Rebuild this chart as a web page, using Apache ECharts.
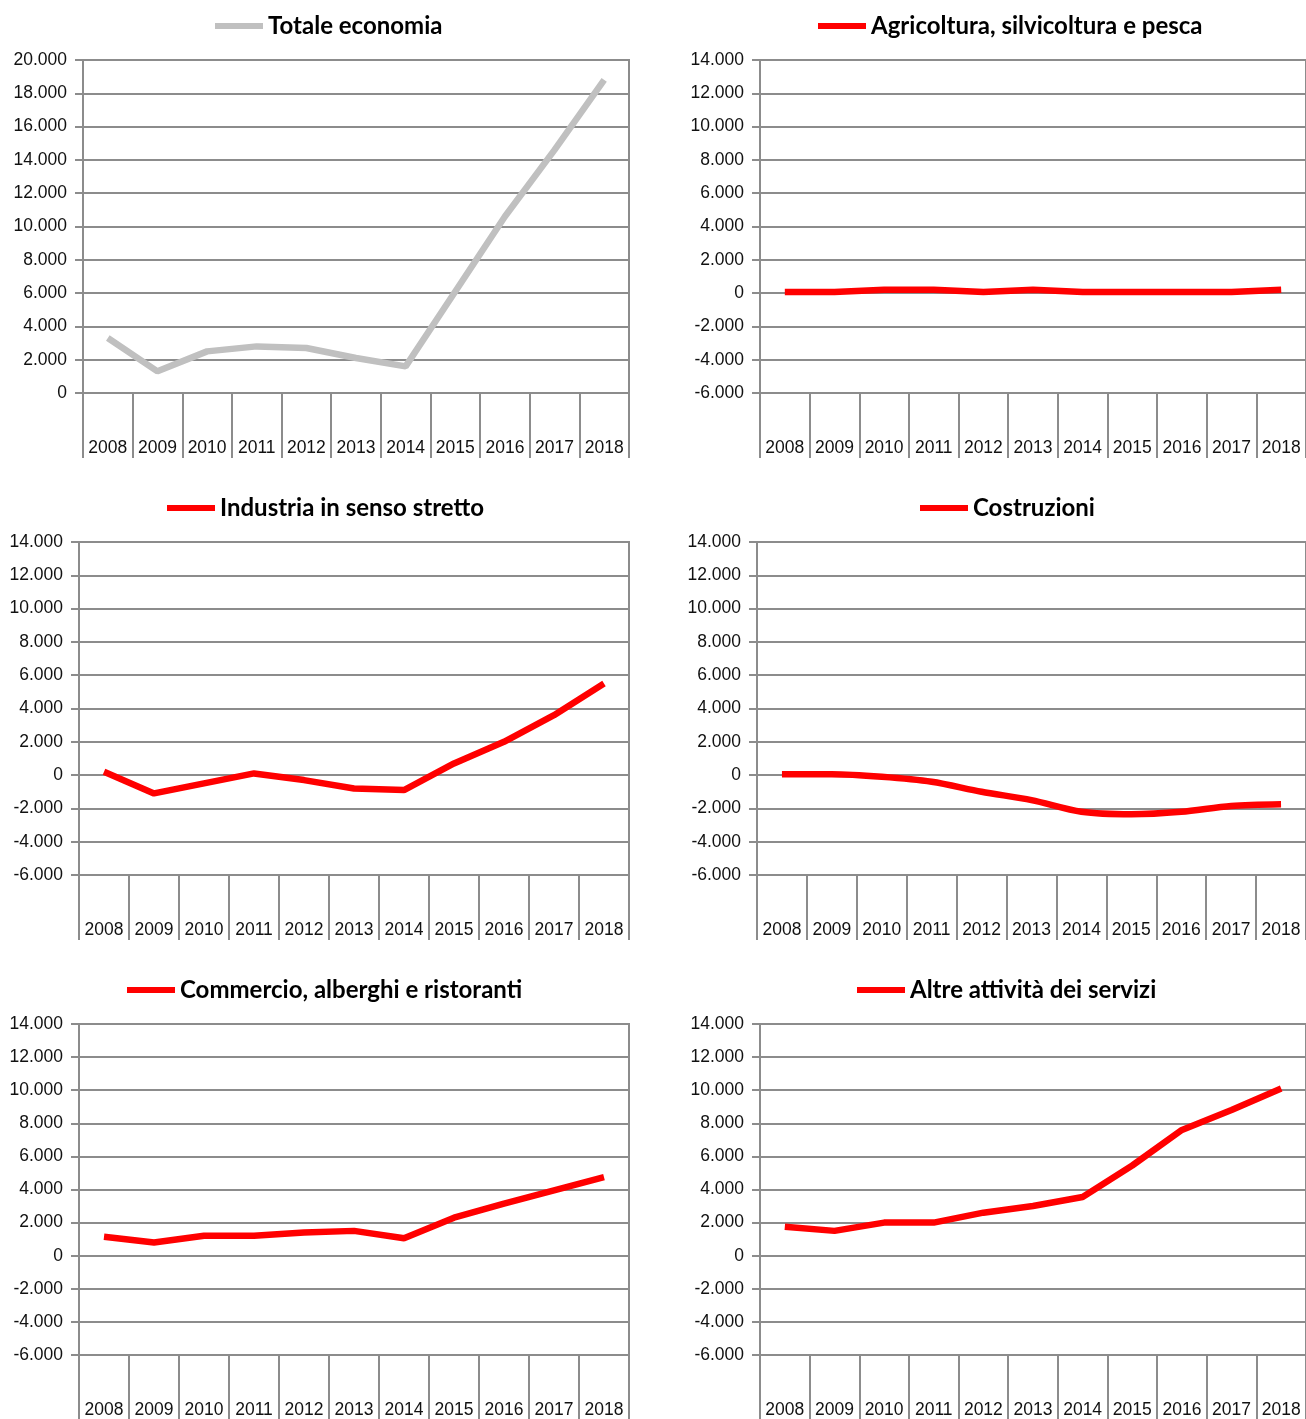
<!DOCTYPE html>
<html>
<head>
<meta charset="utf-8">
<script src="https://cdn.jsdelivr.net/npm/echarts@6/dist/echarts.min.js"></script>
<style>
  html, body { margin: 0; padding: 0; background: #fff; }
  #chart { width: 1306px; height: 1419px; }
</style>
</head>
<body>
<div id="chart"></div>
<script>
var years = ['2008','2009','2010','2011','2012','2013','2014','2015','2016','2017','2018'];
var totale = [3300, 1300, 2500, 2800, 2700, 2100, 1600, 6100, 10600, 14600, 18800];
var agricoltura = [60, 60, 200, 200, 60, 200, 60, 60, 60, 60, 200];
var industria = [200, -1100, -500, 100, -300, -800, -900, 700, 2000, 3600, 5500];
var costruzioni = [50, 50, -100, -400, -1000, -1500, -2200, -2350, -2200, -1850, -1750];
var commercio = [1150, 800, 1200, 1200, 1400, 1500, 1050, 2300, 3150, 3950, 4750];
var altre = [1750, 1500, 2000, 2000, 2600, 3000, 3550, 5450, 7600, 8800, 10100];

var panelNames = ['Totale economia', 'Agricoltura, silvicoltura e pesca', 'Industria in senso stretto',
                  'Costruzioni', 'Commercio, alberghi e ristoranti', 'Altre attività dei servizi'];
var panelData = [totale, agricoltura, industria, costruzioni, commercio, altre];
var panelColors = ['#C0C0C0', '#FF0000', '#FF0000', '#FF0000', '#FF0000', '#FF0000'];
var yMin = [0, -6000, -6000, -6000, -6000, -6000];
var yMax = [20000, 14000, 14000, 14000, 14000, 14000];

var grids = [
  {left: 83, top: 60, width: 546, height: 333},
  {left: 760, top: 60, width: 546, height: 333},
  {left: 79, top: 542, width: 550, height: 333},
  {left: 757, top: 542, width: 549, height: 333},
  {left: 79, top: 1024, width: 550, height: 333},
  {left: 760, top: 1024, width: 546, height: 333}
];
var legendPos = [
  {left: 215, top: 12}, {left: 818, top: 12},
  {left: 167, top: 494}, {left: 920, top: 494},
  {left: 127, top: 976}, {left: 857, top: 976}
];

function fmt(v) {
  var s = Math.abs(v).toString().replace(/\B(?=(\d{3})+(?!\d))/g, '.');
  return (v < 0 ? '-' : '') + s;
}

var gray = '#8C8C8C';
var option = {
  backgroundColor: '#fff',
  animation: false,
  grid: [], xAxis: [], yAxis: [], series: [], legend: []
};

for (var i = 0; i < 6; i++) {
  option.grid.push(Object.assign({show: true, borderColor: gray, borderWidth: 2, backgroundColor: 'transparent'}, grids[i]));
  option.xAxis.push({
    type: 'category', gridIndex: i, data: years, boundaryGap: true, position: 'bottom',
    axisLine: {show: true, onZero: false, lineStyle: {color: gray, width: 2}},
    axisTick: {show: true, length: 65, interval: 0, lineStyle: {color: gray, width: 2}},
    axisLabel: {margin: 46, interval: 0, color: '#111', fontFamily: 'Liberation Sans, Arial', fontSize: 17.5},
    splitLine: {show: false}
  });
  option.yAxis.push({
    type: 'value', gridIndex: i, min: yMin[i], max: yMax[i], interval: 2000,
    axisLine: {show: true, lineStyle: {color: gray, width: 2}},
    axisTick: {show: true, length: 8, lineStyle: {color: gray, width: 2}},
    axisLabel: {margin: 16, color: '#111', fontFamily: 'Liberation Sans, Arial', fontSize: 17.5, formatter: fmt},
    splitLine: {show: true, lineStyle: {color: gray, width: 2}}
  });
  option.series.push({
    name: panelNames[i], type: 'line', xAxisIndex: i, yAxisIndex: i,
    data: panelData[i], symbol: 'none', smooth: (i === 3 ? 0.3 : false),
    lineStyle: {color: panelColors[i], width: 6.5}, itemStyle: {color: panelColors[i]}, z: 5
  });
  option.legend.push({
    data: [panelNames[i]], left: legendPos[i].left, top: legendPos[i].top, padding: 0,
    icon: 'rect', itemWidth: 48, itemHeight: 6, itemGap: 5,
    textStyle: {fontFamily: 'Lato', fontWeight: 'bold', fontSize: 24, lineHeight: 28, color: '#000'},
    selectedMode: false
  });
}

var chart = echarts.init(document.getElementById('chart'));
chart.setOption(option);
</script>
</body>
</html>
